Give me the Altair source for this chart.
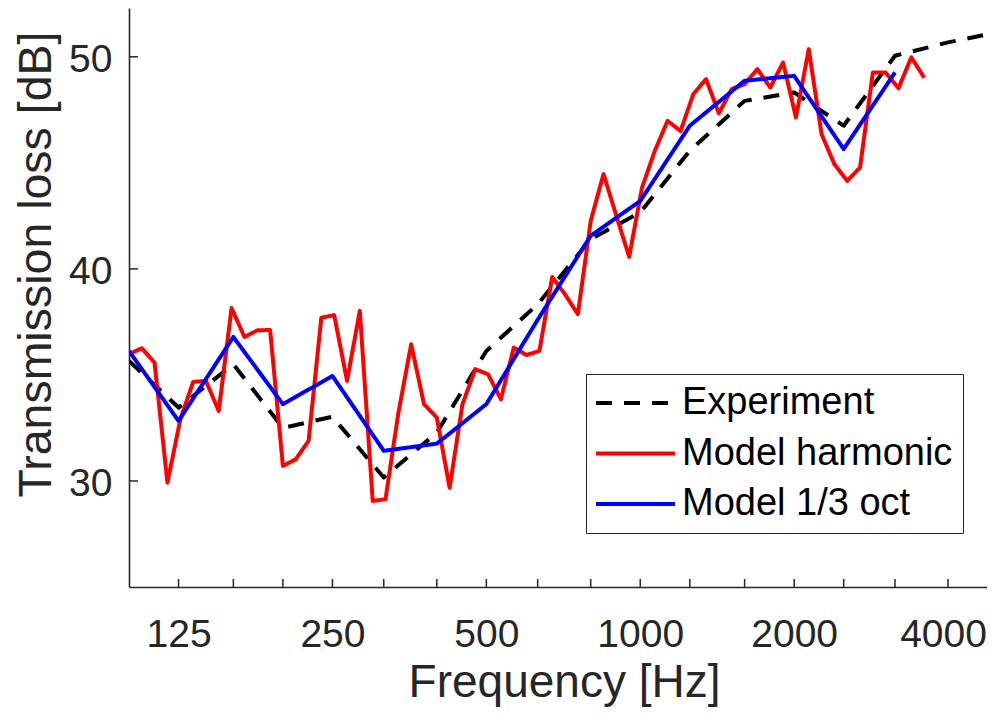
import altair as alt
import pandas as pd

# ---- data ----
series_names = ["Experiment", "Model harmonic", "Model 1/3 oct"]
series_colors = ["#000000", "#ff0000", "#0000ff"]
series_dash = [[16, 12], [1, 0], [1, 0]]

exp_freq = [100, 125, 160, 200, 250, 315, 400, 500, 630, 800, 1000, 1250, 1600,
            2000, 2500, 3150, 4000, 5000]
exp_tl = [35.66, 33.46, 35.5, 32.5, 33.03, 30.16, 32.28, 36.13, 38.33, 41.4, 42.66,
          45.57, 47.92, 48.32, 46.75, 50.05, 50.68, 51.15]

oct_freq = [100, 125, 160, 200, 250, 315, 400, 500, 630, 800, 1000, 1250, 1600,
            2000, 2500, 3150]
oct_tl = [36.13, 32.83, 36.79, 33.62, 34.95, 31.42, 31.76, 33.62, 37.6, 41.56, 43.2,
          46.75, 48.87, 49.1, 45.65, 49.26]

harm_freq = [100.0, 105.9, 112.2, 118.9, 126.0, 133.5, 141.4, 149.8, 158.7, 168.2,
             178.2, 188.8, 200.0, 211.9, 224.5, 237.8, 252.0, 267.0, 282.8, 299.7,
             317.5, 336.4, 356.4, 377.6, 400.0, 423.8, 449.0, 475.7, 504.0, 534.0,
             565.7, 599.3, 635.0, 672.7, 712.7, 755.1, 800.0, 847.6, 898.0, 951.4,
             1008, 1068, 1131, 1199, 1270, 1345, 1425, 1510, 1600, 1695,
             1796, 1903, 2016, 2136, 2263, 2397, 2540, 2691, 2851, 3020,
             3200, 3390, 3592]
harm_tl = [35.98, 36.26, 35.58, 29.92, 32.9, 34.67, 34.72, 33.3, 38.15, 36.79,
           37.1, 37.12, 30.71, 31.02, 31.89, 37.7, 37.82, 34.72, 38.02, 29.06,
           29.14, 33.2, 36.45, 33.62, 32.99, 29.68, 33.62, 35.27, 35.03, 33.85,
           36.29, 35.94, 36.13, 39.62, 38.8, 37.86, 42.26, 44.47, 42.5, 40.57,
           43.83, 45.57, 46.98, 46.5, 48.24, 48.95, 47.33, 48.48, 48.71, 49.42,
           48.55, 49.73, 47.14, 50.36, 46.35, 44.94, 44.15, 44.78, 49.26, 49.26,
           48.52, 49.97, 49.02]

x_tick_freqs = [125, 160, 200, 250, 315, 400, 500, 630, 800, 1000, 1250, 1600,
                2000, 2500, 3150, 4000]
x_label_freqs = [125, 250, 500, 1000, 2000, 4000]
y_tick_vals = [30, 40, 50]

x_domain = [100, 4767]
y_domain = [25, 52.3]

# ---- layout / style ----
W, H = 858, 579
FONT = "Liberation Sans"
AX = "#262626"

df = pd.concat([
    pd.DataFrame({"freq": exp_freq, "tl": exp_tl, "series": series_names[0]}),
    pd.DataFrame({"freq": harm_freq, "tl": harm_tl, "series": series_names[1]}),
    pd.DataFrame({"freq": oct_freq, "tl": oct_tl, "series": series_names[2]}),
], ignore_index=True)

xscale = alt.Scale(type="log", domain=x_domain, nice=False)
yscale = alt.Scale(domain=y_domain, nice=False, zero=False)

x_axis = alt.Axis(values=x_label_freqs, format="d", ticks=False, grid=False,
                  labelFont=FONT, labelFontSize=39, labelColor=AX,
                  labelBaseline="alphabetic", labelPadding=59,
                  labelOffset={"condition": {"test": "datum.value == 4000", "value": -5},
                               "value": 0},
                  labelOverlap=False, labelFlush=False,
                  domainColor=AX, domainWidth=1.6,
                  title="Frequency [Hz]", titleFont=FONT, titleFontSize=46,
                  titleFontWeight="normal", titleColor=AX,
                  titleX=435, titleY=109, titleBaseline="alphabetic",
                  titleAlign="center", titleAnchor="start")
y_axis = alt.Axis(values=y_tick_vals, ticks=False, grid=False,
                  labelFont=FONT, labelFontSize=39, labelColor=AX,
                  labelPadding=17, labelOffset=3,
                  domainColor=AX, domainWidth=1.6,
                  title="Transmission loss [dB]", titleFont=FONT, titleFontSize=46.5,
                  titleFontWeight="normal", titleColor=AX,
                  titleX=-79, titleY=256, titleAngle=270,
                  titleBaseline="alphabetic", titleAlign="center", titleAnchor="start")

X = alt.X("freq:Q", scale=xscale, axis=x_axis)
Y = alt.Y("tl:Q", scale=yscale, axis=y_axis)

legend = alt.Legend(title=None, orient="none", legendX=457, legendY=366,
                    strokeColor=AX, fillColor="white", padding=10,
                    symbolType="M-1.9,0H6", symbolSize=400, symbolStrokeWidth=4,
                    labelFont=FONT, labelFontSize=38, labelColor="#000000",
                    labelOffset=48, rowPadding=12.5, labelLimit=0)

color = alt.Color("series:N", scale=alt.Scale(domain=series_names, range=series_colors),
                  legend=legend)
dash = alt.StrokeDash("series:N", scale=alt.Scale(domain=series_names, range=series_dash),
                      legend=legend)

def line_layer(name):
    return alt.Chart(df).transform_filter(alt.datum.series == name).mark_line(
        strokeWidth=4, clip=True, strokeJoin="round"
    ).encode(x=X, y=Y, color=color, strokeDash=dash)

xt = alt.Chart(pd.DataFrame({"freq": x_tick_freqs})).mark_rule(
    color=AX, strokeWidth=1.5).encode(
    x=X, y=alt.value(H), y2=alt.value(H - 8),
)
yt = alt.Chart(pd.DataFrame({"tl": y_tick_vals})).mark_rule(
    color=AX, strokeWidth=1.5).encode(
    y=Y, x=alt.value(0), x2=alt.value(9),
)

chart = alt.layer(
    line_layer(series_names[0]),
    line_layer(series_names[1]),
    line_layer(series_names[2]),
    xt, yt,
).properties(
    width=W, height=H,
    padding={"left": 121, "top": 0, "right": 0, "bottom": 122},
    autosize=alt.AutoSizeParams(type="none"),
    background="white",
).configure_view(strokeWidth=0)

chart.save("out.html", embed_options={"renderer": "svg", "actions": False})
